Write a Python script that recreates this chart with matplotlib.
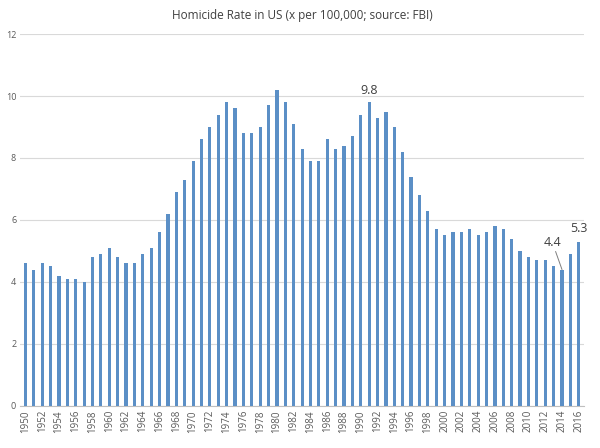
import matplotlib.pyplot as plt

plt.rcParams['font.family'] = ['Open Sans', 'DejaVu Sans']

years = list(range(1950, 2017))
rates = [4.6, 4.4, 4.6, 4.5, 4.2, 4.1, 4.1, 4.0, 4.8, 4.9,
         5.1, 4.8, 4.6, 4.6, 4.9, 5.1, 5.6, 6.2, 6.9, 7.3,
         7.9, 8.6, 9.0, 9.4, 9.8, 9.6, 8.8, 8.8, 9.0, 9.7,
         10.2, 9.8, 9.1, 8.3, 7.9, 7.9, 8.6, 8.3, 8.4, 8.7,
         9.4, 9.8, 9.3, 9.5, 9.0, 8.2, 7.4, 6.8, 6.3, 5.7,
         5.5, 5.6, 5.6, 5.7, 5.5, 5.6, 5.8, 5.7, 5.4, 5.0,
         4.8, 4.7, 4.7, 4.5, 4.4, 4.9, 5.3]
yticks = [0, 2, 4, 6, 8, 10, 12]

fig = plt.figure(figsize=(6, 4.48), dpi=100)
ax = fig.add_axes([0.034, 0.094, 0.939, 0.830])

ax.bar(years, rates, width=0.38, color='#5b8fc6', zorder=3)

ax.set_xlim(1949.4, 2016.6)
ax.set_ylim(0, 12)
ax.set_yticks(yticks)
ax.set_xticks(years[::2])
ax.set_xticklabels([str(y) for y in years[::2]], rotation=90)
ax.tick_params(axis='both', length=0, labelsize=6.5, colors='#595959', pad=3)
ax.tick_params(axis='x', labelsize=7)
ax.grid(axis='y', color='#d9d9d9', linewidth=0.8, zorder=0)
for s in ['top', 'right', 'left']:
    ax.spines[s].set_visible(False)
ax.spines['bottom'].set_color('#bfbfbf')

ax.set_title('Homicide Rate in US (x per 100,000; source: FBI)',
             fontsize=8.5, color='#404040', pad=11)

# data labels
ax.annotate('9.8', (1991, rates[years.index(1991)]), xytext=(0, 4),
            textcoords='offset points', ha='center', va='bottom',
            fontsize=9, color='#404040')
ax.annotate('5.3', (2016, rates[years.index(2016)]), xytext=(0, 5),
            textcoords='offset points', ha='center', va='bottom',
            fontsize=9, color='#404040')
ax.annotate('4.4', (2014, rates[years.index(2014)]), xytext=(-7, 15),
            textcoords='offset points', ha='center', va='bottom',
            fontsize=9, color='#404040',
            arrowprops=dict(arrowstyle='-', color='#7f7f7f', lw=0.7,
                            shrinkA=0, shrinkB=0))

fig.savefig('out.png', dpi=100)
